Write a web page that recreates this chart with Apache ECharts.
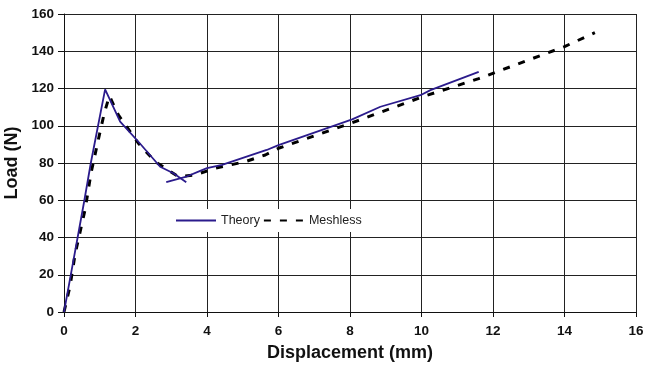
<!DOCTYPE html>
<html>
<head>
<meta charset="utf-8">
<script src="https://cdn.jsdelivr.net/npm/echarts@6/dist/echarts.min.js"></script>
<style>html,body{margin:0;padding:0;background:#fff}#c{width:645px;height:369px}</style>
</head>
<body>
<div id="c"></div>
<script>
// Theory curve: rising/softening branch, then re-loading branch
var theoryX1 = [0, 0.2, 0.4, 0.57, 0.75, 1.15, 1.57, 2.1, 2.69, 3.06, 3.42];
var theoryY1 = [0, 21, 42, 60, 80, 119.5, 102.2, 91, 78, 74.5, 69.7];
var theoryX2 = [2.86, 3.4, 3.81, 4.0, 4.42, 5.67, 6.0, 8.06, 8.85, 9.97, 10.25, 11.6];
var theoryY2 = [69.7, 72.5, 75.8, 77.2, 79, 87, 89.6, 103.4, 110.2, 116.4, 119.1, 128.9];
// Meshless curve
var meshX = [0, 0.17, 0.31, 0.59, 0.76, 1.0, 1.13, 1.27, 1.52, 2.08, 2.55, 3.2, 3.67, 4.23, 5.07, 5.63, 6.0, 8.06, 10.02, 11.6, 14.0, 14.85];
var meshY = [0, 14, 31, 55, 75, 96, 107, 116, 105.8, 90.6, 80.7, 72.7, 73.6, 77.2, 80.7, 84.3, 87.9, 101.6, 115.5, 125.3, 142.5, 150];
var xTicks = [0, 2, 4, 6, 8, 10, 12, 14, 16];
var yTicks = [0, 20, 40, 60, 80, 100, 120, 140, 160];

function pairs(xs, ys){ return xs.map(function(x,i){ return [x, ys[i]]; }); }

var chart = echarts.init(document.getElementById('c'), null, {renderer:'canvas'});
var theoryColor = '#2b1b8c';
var lblFont = 'Liberation Sans, Arial, sans-serif';
chart.setOption({
  animation: false,
  backgroundColor: '#fff',
  grid: {left: 64, right: 9, top: 14, bottom: 57, containLabel: false, outerBoundsMode: 'none'},
  legend: {
    data: ['Theory', 'Meshless'],
    left: 150, top: 209, orient: 'horizontal',
    backgroundColor: '#fff',
    padding: [5, 55, 5, 25],
    itemGap: 3, itemWidth: 40, itemHeight: 14,
    itemStyle: {opacity: 0},
    textStyle: {fontFamily: lblFont, fontSize: 12.5, color: '#222'}
  },
  xAxis: {
    type: 'value', min: xTicks[0], max: xTicks[xTicks.length-1], interval: 2,
    name: 'Displacement (mm)', nameLocation: 'middle', nameGap: 32,
    nameTextStyle: {fontFamily: lblFont, fontSize: 18, fontWeight: 'bold', color: '#111'},
    axisLine: {show: true, onZero: false, lineStyle: {color: '#111', width: 1}},
    axisTick: {show: true, inside: false, length: 5, lineStyle: {color: '#111'}},
    axisLabel: {margin: 12, fontFamily: lblFont, fontSize: 13.5, fontWeight: 'bold', color: '#111'},
    splitLine: {show: true, lineStyle: {color: '#222', width: 1}}
  },
  yAxis: {
    type: 'value', min: yTicks[0], max: yTicks[yTicks.length-1], interval: 20,
    name: 'Load (N)', nameLocation: 'middle', nameGap: 38, nameRotate: 90,
    nameTextStyle: {fontFamily: lblFont, fontSize: 18, fontWeight: 'bold', color: '#111'},
    axisLine: {show: true, onZero: false, lineStyle: {color: '#111', width: 1}},
    axisTick: {show: true, inside: false, length: 6, lineStyle: {color: '#111'}},
    axisLabel: {margin: 10, fontFamily: lblFont, fontSize: 13.5, fontWeight: 'bold', color: '#111'},
    splitLine: {show: true, lineStyle: {color: '#222', width: 1}}
  },
  series: [
    {name: 'Theory', type: 'line', data: pairs(theoryX1, theoryY1), symbol: 'none', z: 3,
     lineStyle: {color: theoryColor, width: 1.8}, itemStyle: {color: theoryColor}},
    {name: 'Theory', type: 'line', data: pairs(theoryX2, theoryY2), symbol: 'none', z: 3,
     lineStyle: {color: theoryColor, width: 1.8}, itemStyle: {color: theoryColor}},
    {name: 'Meshless', type: 'line', data: pairs(meshX, meshY), symbol: 'none', z: 2,
     lineStyle: {color: '#000', width: 3, type: [7, 9]}, itemStyle: {color: '#000'}}
  ]
});
</script>
</body>
</html>
